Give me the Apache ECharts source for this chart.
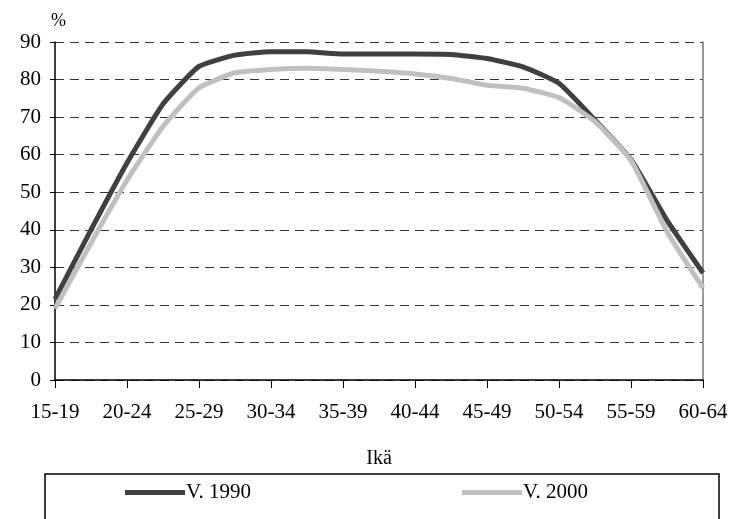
<!DOCTYPE html>
<html>
<head>
<meta charset="utf-8">
<script src="https://cdn.jsdelivr.net/npm/echarts@6/dist/echarts.min.js"></script>
<style>
  html, body { margin: 0; padding: 0; background: #fff; }
  #chart { width: 738px; height: 519px; }
</style>
</head>
<body>
<div id="chart"></div>
<script>
// Age groups shown on the x axis
const ageGroups = ['15-19', '20-24', '25-29', '30-34', '35-39', '40-44', '45-49', '50-54', '55-59', '60-64'];

// Positions along the age axis (in age-group steps, half-step resolution)
const agePos = [0, 0.5, 1, 1.5, 2, 2.5, 3, 3.5, 4, 4.5, 5, 5.5, 6, 6.5, 7, 7.5, 8, 8.5, 9];

// Employment rate, %
const rate1990 = [21.5, 40, 57.8, 73.5, 83.5, 86.5, 87.4, 87.4, 86.8, 86.8, 86.8, 86.7, 85.6, 83.4, 79, 69.2, 58.7, 42.5, 28.5];
const rate2000 = [19, 36.5, 53.2, 67.5, 77.8, 81.8, 82.7, 83, 82.7, 82.2, 81.5, 80.3, 78.5, 77.7, 75.2, 68.8, 58.5, 39.5, 24.5];

const seriesNames = ['V. 1990', 'V. 2000'];
const yTicks = { min: 0, max: 90, step: 10 };

const font = '"Liberation Serif", "DejaVu Serif", serif';

const pairs = (vals) => vals.map((v, i) => [agePos[i], v]);

const chart = echarts.init(document.getElementById('chart'), null, { renderer: 'canvas' });

const legendBase = {
  top: 482,
  padding: 0,
  icon: 'rect', itemWidth: 60, itemHeight: 5,
  textStyle: { fontFamily: font, fontSize: 21, color: '#000', padding: [0, 0, 0, -4] }
};

chart.setOption({
  animation: false,
  backgroundColor: '#ffffff',
  textStyle: { fontFamily: font, color: '#000' },
  grid: { left: 55, right: 35, top: 42, bottom: 139, containLabel: false },
  xAxis: {
    type: 'value',
    min: 0,
    max: ageGroups.length - 1,
    interval: 1,
    name: 'Ikä',
    nameLocation: 'middle',
    nameGap: 69,
    nameTextStyle: { fontFamily: font, fontSize: 20, color: '#000' },
    axisLine: { show: true, lineStyle: { color: '#000', width: 1.5 } },
    axisTick: { show: true, inside: false, length: 8, lineStyle: { color: '#000', width: 1 } },
    axisLabel: {
      fontFamily: font, fontSize: 21, color: '#000', margin: 22,
      formatter: (v) => ageGroups[Math.round(v)] || ''
    },
    splitLine: { show: false }
  },
  yAxis: [{
    type: 'value',
    min: yTicks.min,
    max: yTicks.max,
    interval: yTicks.step,
    name: '%',
    nameLocation: 'end',
    nameGap: 12,
    nameTextStyle: { fontFamily: font, fontSize: 18, color: '#000', align: 'left', padding: [0, 0, 0, -4] },
    axisLine: { show: true, lineStyle: { color: '#000', width: 1.5 } },
    axisTick: { show: true, inside: false, length: 5, lineStyle: { color: '#000' } },
    axisLabel: { fontFamily: font, fontSize: 21, color: '#000', margin: 14 },
    splitLine: { show: true, lineStyle: { color: '#333', width: 1, type: [9, 6] } }
  }, {
    type: 'value',
    position: 'right',
    min: yTicks.min,
    max: yTicks.max,
    interval: yTicks.step,
    axisLine: { show: true, lineStyle: { color: '#777', width: 1.5 } },
    axisTick: { show: false },
    axisLabel: { show: false },
    splitLine: { show: false }
  }],
  legend: [
    Object.assign({ data: [seriesNames[0]], left: 125 }, legendBase),
    Object.assign({ data: [seriesNames[1]], left: 462 }, legendBase)
  ],
  graphic: [{
    type: 'rect',
    z: -1,
    shape: { x: 45, y: 474, width: 674, height: 60 },
    style: { fill: 'none', stroke: '#000', lineWidth: 1.5 }
  }],
  series: [{
    name: seriesNames[0],
    type: 'line',
    data: pairs(rate1990),
    smooth: 0.15,
    showSymbol: false,
    symbol: 'none',
    itemStyle: { color: '#404040' },
    lineStyle: { color: '#404040', width: 5 },
    z: 3
  }, {
    name: seriesNames[1],
    type: 'line',
    data: pairs(rate2000),
    smooth: 0.15,
    showSymbol: false,
    symbol: 'none',
    itemStyle: { color: '#c0c0c0' },
    lineStyle: { color: '#c0c0c0', width: 5 },
    z: 4
  }]
});
</script>
</body>
</html>
